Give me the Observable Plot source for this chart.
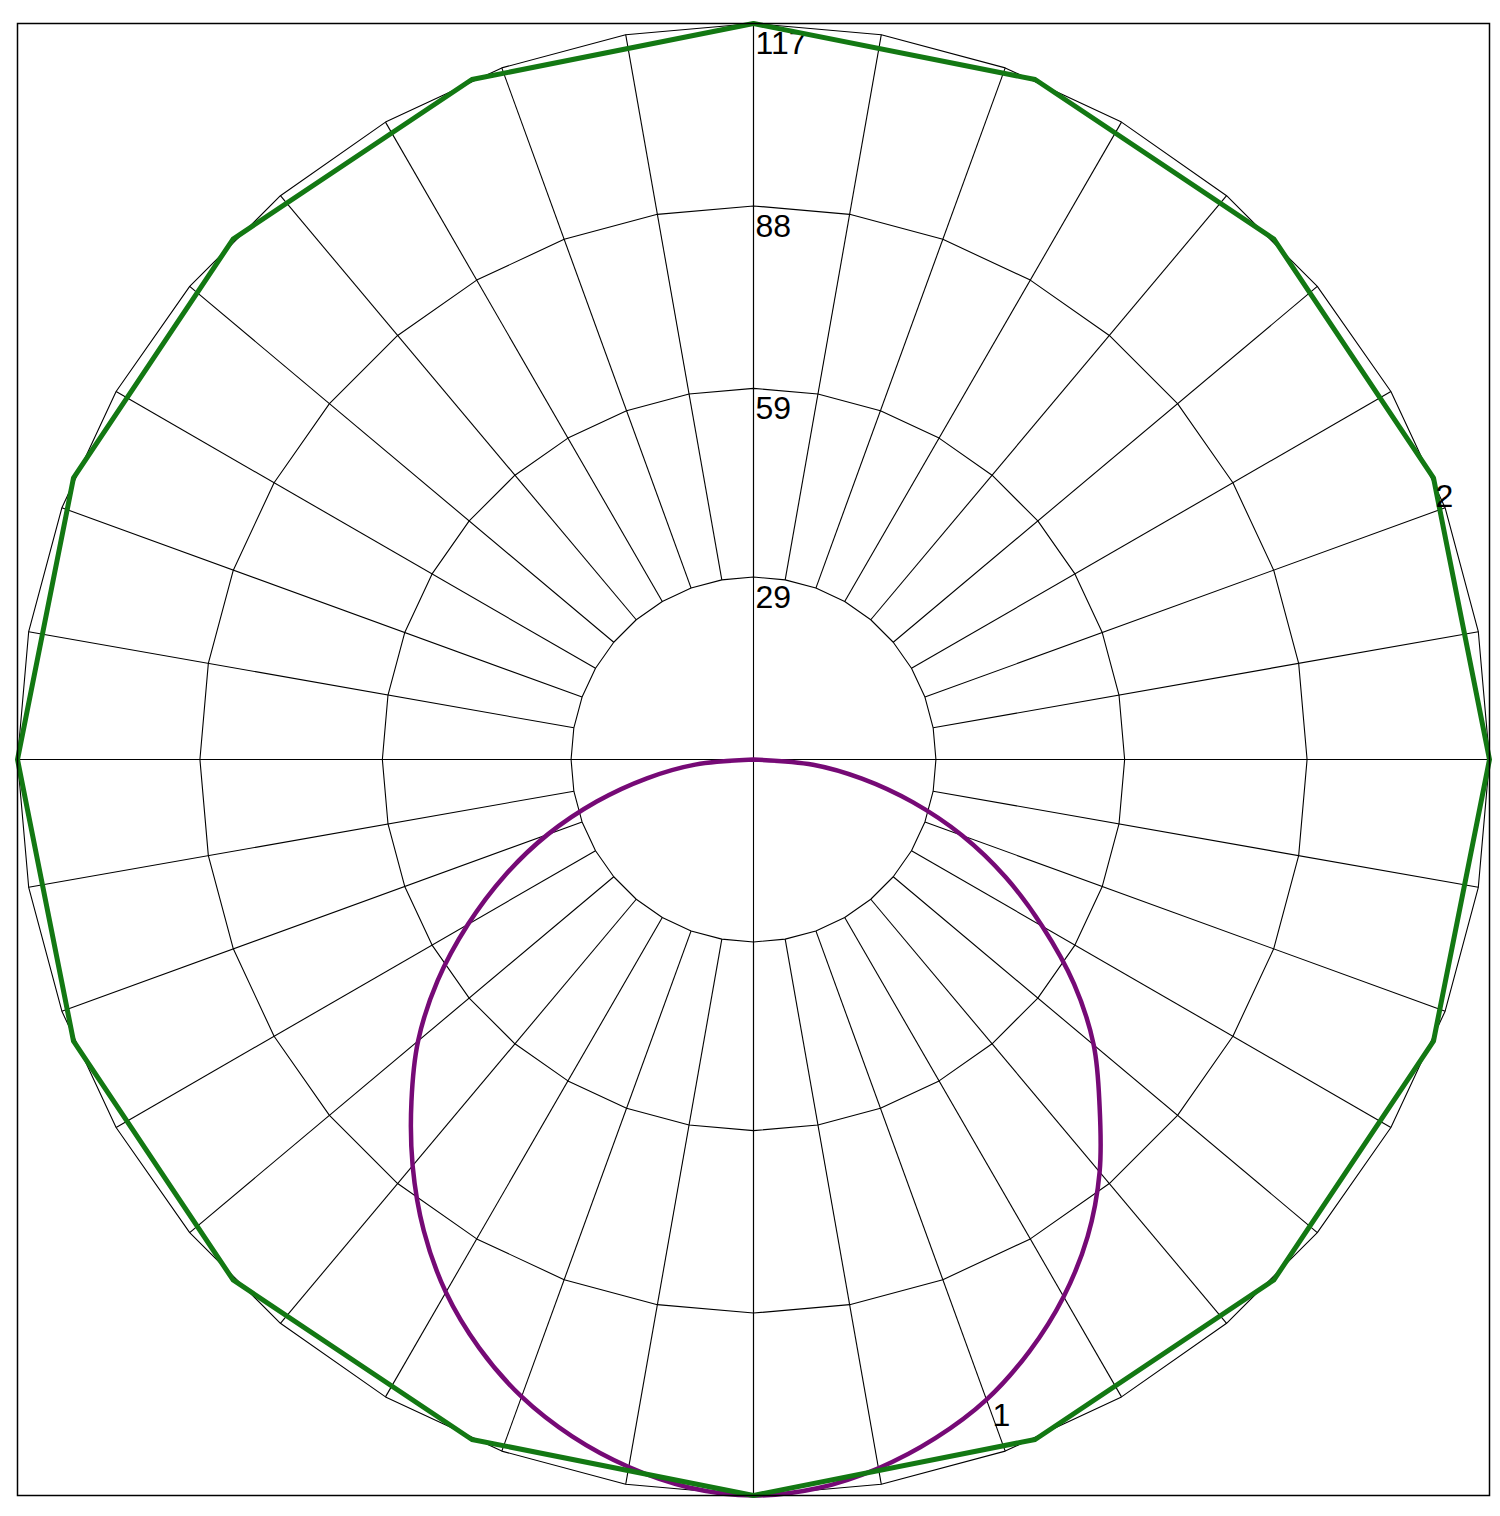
<!DOCTYPE html>
<html>
<head>
<meta charset="utf-8">
<script src="https://cdn.jsdelivr.net/npm/d3@7"></script>
<script src="https://cdn.jsdelivr.net/npm/@observablehq/plot@0.6"></script>
<style>
  html, body { margin: 0; padding: 0; background: #fff; }
  #chart svg { display: block; }
</style>
</head>
<body>
<div id="chart"></div>
<script>
// Intensity rings; their values are also the scale labels on the upper axis
const ringValues = [29, 59, 88, 117];
const rMax = 117;

// Spoke directions, degrees clockwise from the top
const spokeAngles = [0, 10, 20, 30, 40, 50, 60, 70, 80, 90, 100, 110, 120, 130, 140, 150, 160, 170,
                     180, 190, 200, 210, 220, 230, 240, 250, 260, 270, 280, 290, 300, 310, 320, 330, 340, 350];

// Curve 1: angle from straight down (negative = left half), intensity
const curve1Angles = [-90, -85, -80, -75, -70, -65, -60, -55, -50, -45, -40, -35, -30, -25, -20, -15, -10, -5,
                      0, 5, 10, 15, 20, 25, 30, 35, 40, 45, 50, 55, 60, 65, 70, 75, 80, 85, 90];
const curve1Values = [0, 9.3, 17.2, 25.8, 34.8, 43.6, 52.4, 61.3, 69.6, 76.9, 84.3, 91.4, 97.8, 103.2, 107.8, 111.4, 114.2, 116.2,
                      117, 116.3, 114.4, 111.7, 108.3, 103.8, 98.6, 92.6, 85.6, 77.8, 70.6, 62.2, 53.0, 44.2, 35.3, 26.2, 17.5, 9.5, 0];

// Curve 2: angle clockwise from the top, intensity
const curve2Angles = [0, 22.5, 45, 67.5, 90, 112.5, 135, 157.5, 180, 202.5, 225, 247.5, 270, 292.5, 315, 337.5];
const curve2Values = [117, 117, 117, 117, 117, 117, 117, 117, 117, 117, 117, 117, 117, 117, 117, 117];

// Curve names, written next to the curves
const curveNames = ["1", "2"];

// polar (degrees clockwise from top, radius) -> cartesian
const rad = Math.PI / 180;
const px = (a, r) => r * Math.sin(a * rad);
const py = (a, r) => r * Math.cos(a * rad);

// Ring polygons joined at every spoke
const ringPoints = ringValues.flatMap(r =>
  [...spokeAngles, spokeAngles[0] + 360].map(a => ({ring: r, x: px(a, r), y: py(a, r)})));

// Spokes run from the innermost ring to the outer ring
const innerRing = ringValues[0];
const spokes = spokeAngles.map(a => ({
  x1: px(a, innerRing), y1: py(a, innerRing), x2: px(a, rMax), y2: py(a, rMax)
}));

// The two main axes cross the centre
const axes = [0, 90].map(a => ({
  x1: px(a, -rMax), y1: py(a, -rMax), x2: px(a, rMax), y2: py(a, rMax)
}));

const curve1 = curve1Angles.map((g, i) => ({
  x: px(180 - g, curve1Values[i]), y: py(180 - g, curve1Values[i])
}));
const curve2 = [...curve2Angles, curve2Angles[0]].map((a, i) => {
  const v = curve2Values[i % curve2Values.length];
  return {x: px(a, v), y: py(a, v)};
});

// Curve name labels sit beside a point of each curve
const nameAnchors = [
  {name: curveNames[0], ...curve1[curve1Angles.indexOf(20)], dx: 15, dy: 16},
  {name: curveNames[1], ...curve2[curve2Angles.indexOf(67.5)], dx: 11, dy: 19}
];

const font = "Arial, 'Liberation Sans', Helvetica, sans-serif";
const green = "#137813";
const purple = "#760a76";

const chart = Plot.plot({
  width: 1500,
  height: 1516,
  marginLeft: 17,
  marginRight: 11,
  marginTop: 23,
  marginBottom: 21,
  x: {domain: [-rMax, rMax], axis: null},
  y: {domain: [-rMax, rMax], axis: null},
  style: {fontFamily: font, background: "#fff"},
  marks: [
    Plot.line(ringPoints, {x: "x", y: "y", z: "ring", stroke: "#000", strokeWidth: 1.1}),
    Plot.link(spokes, {x1: "x1", y1: "y1", x2: "x2", y2: "y2", stroke: "#000", strokeWidth: 1.1}),
    Plot.link(axes, {x1: "x1", y1: "y1", x2: "x2", y2: "y2", stroke: "#000", strokeWidth: 1.1}),
    Plot.text(ringValues, {
      x: 0, y: d => d, text: d => String(d),
      textAnchor: "start", lineAnchor: "top", dx: 2, dy: 8,
      fontSize: 32, fill: "#000"
    }),
    Plot.line(curve1, {x: "x", y: "y", curve: "catmull-rom", stroke: purple, strokeWidth: 4.5, strokeLinejoin: "round"}),
    Plot.line(curve2, {x: "x", y: "y", stroke: green, strokeWidth: 5, strokeLinejoin: "round"}),
    ...nameAnchors.map(d => Plot.text([d], {
      x: "x", y: "y", text: "name", dx: d.dx, dy: d.dy,
      textAnchor: "middle", lineAnchor: "middle", fontSize: 32, fill: "#000"
    })),
    Plot.frame({stroke: "#000", strokeWidth: 1.5})
  ]
});

document.getElementById("chart").append(chart);
</script>
</body>
</html>
